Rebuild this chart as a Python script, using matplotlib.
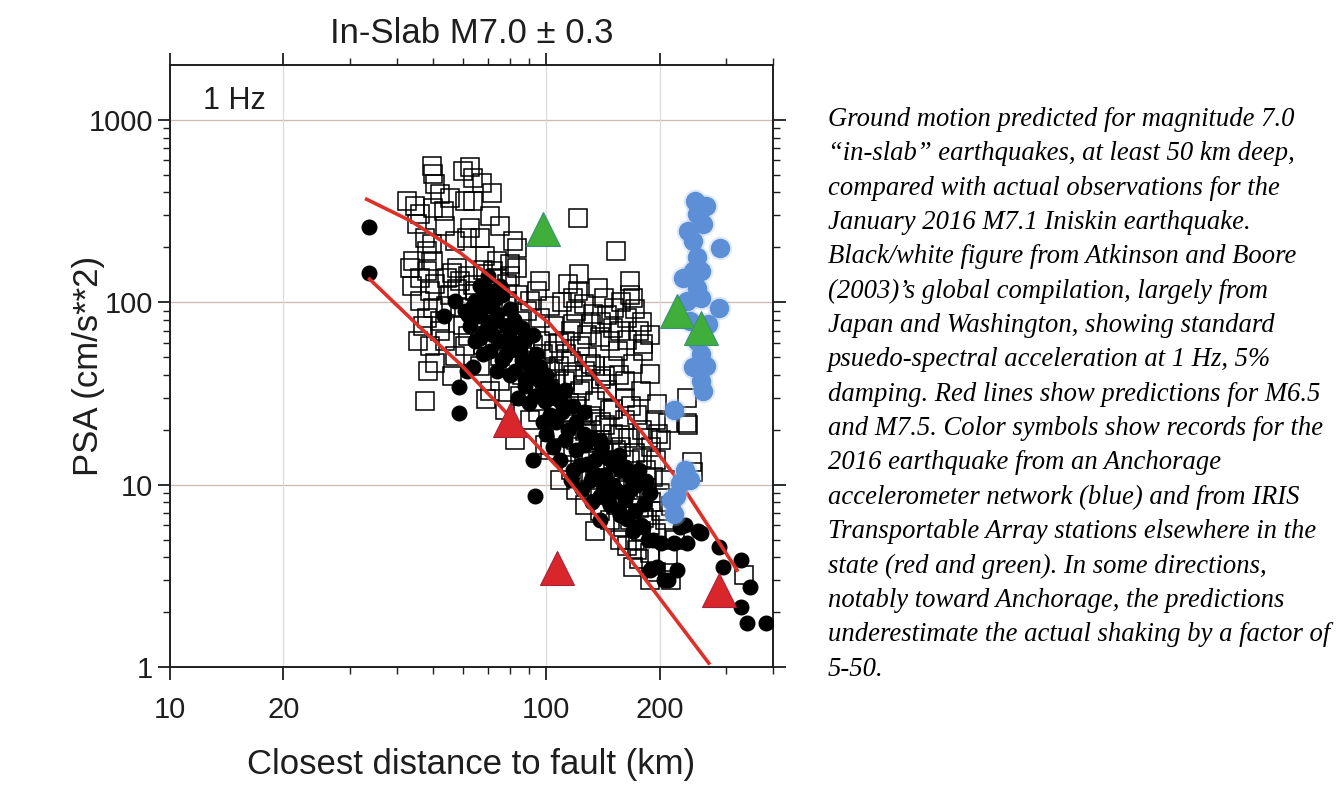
import matplotlib
matplotlib.use("Agg")
import matplotlib.pyplot as plt
from matplotlib.ticker import FixedLocator, FixedFormatter, NullFormatter

RED = "#de3029"
GREEN = "#3fae3a"
BLUE = "#5c8fd6"
GRID_H = "#cdb9b0"
GRID_V = "#dcdcdc"
INK = "#1e1e1e"
FONT = "Liberation Sans"

# Atkinson & Boore compilation: open squares
SQ_DIST = [49.7, 50, 50.6, 52.3, 42.7, 44.8, 46.2, 50, 53.3, 55.5, 60.1, 60.8, 62.7, 63.9, 67.5,
           71.8, 63.9, 62.7, 66.7, 45.4, 47.6, 49.7, 48.2, 44.3, 43.5, 50, 48.2, 46.2, 50.6, 49.1,
           57.9, 59, 54.6, 61.6, 59, 50, 48.2, 53.9, 57.2, 70.9, 75.4, 68.8, 55.5, 52.3, 46.2,
           44, 64.6,
           47.1, 45.7, 49.1, 53.9, 50.6, 48.5, 56.2, 47.6, 57.2, 60.8, 52.3,
           81.7, 83.7, 74, 80.2, 72.2, 83.7, 78.7, 89, 85.3, 96.4, 78.7, 96.4, 94.6, 90.6, 102, 105,
           121, 153, 122, 114, 137, 167, 167, 142, 121, 120, 133, 151, 164, 118, 131, 181, 189,
           170, 155, 139, 131, 197, 237, 237, 210, 181, 157, 148, 123, 112, 178, 162, 143, 195, 170,
           238, 244, 245, 189, 210, 189, 214, 334, 170, 174, 160, 167, 201, 195, 207, 184, 178,
           201, 189,
           66.7, 73.1, 80.2, 87.9, 96.4, 105, 116, 127, 75.4, 82.7, 90.6, 99.4, 109, 120, 131, 143,
           157, 93.4, 102, 112, 123, 135, 148, 162, 96.4, 105, 116, 127, 139, 153, 167, 109, 120,
           131, 143, 157, 172, 123, 135, 148, 162, 139, 153, 167, 148, 131, 116, 102, 109, 120,
           127, 139, 157, 178, 135,
           69, 75.4, 70.9, 77.7, 85.3, 66.7, 82.7, 90.6, 99.4,
           56, 62, 68, 74, 80, 58, 64, 72, 78, 84, 60, 66, 72, 54, 62, 68, 76, 84, 88, 92, 98,
           86, 92, 100, 106,
           95, 102, 108, 113, 118, 125, 128, 135, 140, 145, 150, 156, 162, 168, 174, 180, 186,
           150, 140, 132, 124, 115, 110, 118, 126, 134, 142, 150, 158, 165, 172, 180, 190, 198,
           128, 136, 144, 152, 160, 168, 176, 184, 192, 200, 190, 182, 172, 164, 196, 206, 214,
           220, 176, 196,
           110, 118, 126, 145, 158, 172, 180, 188, 176, 164, 150, 140, 128, 116, 108]
SQ_PSA = [560, 505, 446, 393, 360, 338, 305, 330, 317, 374, 525, 360, 552, 481, 451,
          398, 360, 256, 226, 270, 226, 209, 192, 169, 155, 169, 149, 136, 126, 116,
          155, 131, 136, 226, 93.4, 93.4, 82.4, 263, 217, 298, 263, 180, 109, 79.3, 102,
          123, 116,
          74.5, 61.6, 57.8, 61.6, 46.7, 42.2, 39.6, 28.9, 51, 57.8, 70,
          217, 199, 169, 163, 149, 155, 126, 90, 79.3, 82.4, 102, 131, 116, 102, 95.8, 74.5,
          290, 192, 143, 126, 120, 131, 109, 106, 116, 90, 86.7, 93.4, 82.4, 76.4, 76.4, 59.3, 40.6,
          46.1, 54.3, 64.1, 46.1, 27.8, 30, 21.7, 21.7, 54.3, 70, 61.6, 57.8, 61.6, 32.8, 37.2, 39.6,
          22.5, 106,
          21.1, 13.3, 11.7, 4.21, 4.1, 2.99, 2.99, 3.19, 3.53, 4.37, 5.86, 6.93, 17.5, 13.6, 10.6,
          12, 8.73, 7.2, 6.0,
          70, 61.6, 65.7, 57.8, 61.6, 54.3, 47.9, 42.2, 51, 45, 39.6, 34.9, 30.8, 27.1, 23.9, 21.1,
          18.6, 47.9, 42.2, 37.2, 32.8, 28.9, 25.5, 22.5, 28.9, 25.5, 22.5, 19.8, 17.5, 15.4, 13.6,
          19.8, 17.5, 15.4, 13.6, 12, 10.6, 13.6, 12, 10.6, 9.3, 8.73, 7.7, 6.4, 6.4, 10.6, 12,
          15.4, 10.6, 9.3, 7.7, 7.2, 4.95, 5.6, 5.6,
          29.5, 37.2, 32.8, 25.5, 30.8, 45, 17.5, 22.5, 16.4,
          145, 140, 150, 135, 140, 118, 125, 110, 95, 110, 75, 82, 88, 95, 65, 58, 72, 66, 50, 58, 52,
          40, 36, 44, 38,
          25, 33, 45, 52, 40, 35, 50, 45, 38, 33, 45, 40, 30, 27, 24, 20, 18,
          26, 22, 20, 24, 28, 20, 16, 14, 17, 15, 19, 16, 18, 15, 14, 16, 19,
          11, 9.8, 9, 11, 10, 8.4, 7.4, 9.6, 11, 9, 8, 6.6, 5, 4.6, 5.4, 6.4, 7.6,
          5, 3.9, 3.3,
          100, 105, 98, 85, 100, 92, 78, 66, 70, 62, 72, 78, 66, 70, 60]

# Atkinson & Boore compilation: filled circles
CI_DIST = [33.8, 33.8, 53.3, 58.6, 58.6, 92.3, 93.4, 61.6, 57.2, 60.8, 64.6, 62.7, 66.7, 70.9,
           68.8, 73.1, 75.4, 80.2, 77.7, 85.3, 82.7, 90.6, 87.9, 96.4, 70.9, 66.7, 64.6, 70.9,
           99.4, 102, 109, 93.4, 75.4, 70, 112, 120, 127, 123, 135, 131, 143, 139, 153, 148, 162,
           157, 172, 139, 178, 116, 109, 139, 157, 167, 181, 192, 227, 257, 237, 197, 223, 205,
           189, 234, 253, 287, 328, 295, 348, 328, 342, 383, 186, 201, 218, 210, 74, 63.9, 66.7,
           64, 68, 72, 76, 80, 74, 70, 78, 82, 86, 88, 92, 84, 80, 76, 86, 94, 96, 100, 104, 92,
           88, 98, 106, 112, 72, 68, 80, 84, 90, 78, 62, 66,
           114, 120, 126, 132, 140, 146, 150, 156, 162, 168, 174, 160, 150, 142, 134, 128, 118,
           124, 132, 146, 156, 164, 170, 182, 188, 176, 184, 106, 100, 110, 118, 126, 104, 98]
CI_PSA = [260, 145, 84.5, 34.1, 24.6, 13.6, 8.7, 42.2, 102, 90, 102, 74.5, 84.5, 95.8,
          70, 79.3, 61.6, 70, 51, 54.3, 42.2, 45, 34.9, 37.2, 116, 123, 61.6, 54.3,
          28.9, 24, 28.9, 30.8, 123, 140, 17.5, 15.4, 16.4, 12.8, 13.6, 10.6, 11.3, 8.7, 9.3, 7.7,
          8.2, 6.8, 7.2, 6.4, 6.0, 10.6, 13.6, 17.5, 12, 9.3, 5.86, 4.95, 5.86, 5.46, 4.77, 3.53,
          3.4, 2.99, 3.4, 6.0, 5.6, 4.53, 3.85, 3.53, 2.74, 2.13, 1.74, 1.74, 4.95, 4.77, 4.77,
          2.99, 42.2, 44, 63.6,
          95, 105, 100, 110, 92, 86, 78, 74, 80, 72, 62, 66, 60, 55, 48, 48, 52, 44, 40, 34, 40,
          38, 32, 30, 33, 66, 52, 40, 30, 28, 62, 85, 96,
          20, 22, 19, 18, 16, 14, 13, 14.5, 12.5, 11, 10, 9, 10, 9.8, 11.5, 13, 12,
          9.5, 8, 8.2, 7.2, 6.5, 5.6, 7.8, 9, 12, 10.5, 22, 19, 25, 27, 25, 16, 22]

# 2016 Iniskin records
BL_DIST = [248, 252, 260, 245, 290, 252, 245, 231, 252, 257, 287, 268, 252, 257, 245, 257, 260,
           218, 227, 241, 214, 218, 238, 265, 241, 265, 236, 257, 234, 221]
BL_PSA = [360, 305, 270, 217, 199, 176, 149, 136, 120, 106, 93.4, 76.4, 61.6, 52.3, 43.9, 37.2,
          32.8, 25.5, 10.2, 10.6, 8.2, 6.93, 247, 338, 79.3, 45, 102, 149, 12.0, 8.7]
GR_DIST = [98, 223, 257]
GR_PSA = [253, 90, 72.6]
RD_DIST = [80, 107, 287]
RD_PSA = [22.5, 3.5, 2.64]

# predictions, M7.5 (upper) and M6.5 (lower)
M75_DIST = [33.3, 43.5, 59, 102, 178, 227, 321]
M75_PSA = [367, 280, 187, 76.4, 19.8, 10.2, 3.4]
M65_DIST = [33.9, 47.1, 59, 109, 170, 270]
M65_PSA = [134, 70, 45.9, 12, 3.71, 1.05]

X_MAJOR = [10, 20, 100, 200]
X_MINOR = [30, 40, 50, 60, 70, 80, 90, 300, 400]
Y_MAJOR = [1, 10, 100, 1000]

CAPTION = ("Ground motion predicted for magnitude 7.0\n"
           "\u201cin-slab\u201d earthquakes, at least 50 km deep,\n"
           "compared with actual observations for the\n"
           "January 2016 M7.1 Iniskin earthquake.\n"
           "Black/white figure from Atkinson and Boore\n"
           "(2003)\u2019s global compilation, largely from\n"
           "Japan and Washington, showing standard\n"
           "psuedo-spectral acceleration at 1 Hz, 5%\n"
           "damping. Red lines show predictions for M6.5\n"
           "and M7.5. Color symbols show records for the\n"
           "2016 earthquake from an Anchorage\n"
           "accelerometer network (blue) and from IRIS\n"
           "Transportable Array stations elsewhere in the\n"
           "state (red and green). In some directions,\n"
           "notably toward Anchorage, the predictions\n"
           "underestimate the actual shaking by a factor of\n"
           "5-50.")

fig = plt.figure(figsize=(13.38, 7.88), dpi=100)
ax = fig.add_axes([170 / 1338, 121 / 788, 603 / 1338, 602 / 788])
ax.set_xscale("log")
ax.set_yscale("log")
ax.set_xlim(10, 400)
ax.set_ylim(1, 2000)

for v in [10, 100, 1000]:
    ax.axhline(v, color=GRID_H, lw=0.9, zorder=0)
for v in [20, 100, 200]:
    ax.axvline(v, color=GRID_V, lw=0.9, zorder=0)

ax.plot(SQ_DIST, SQ_PSA, ls="none", marker="s", ms=12.5, mfc="none", mec="black", mew=1.1, zorder=2)
ax.plot(CI_DIST, CI_PSA, ls="none", marker="o", ms=10.5, mfc="black", mec="black", zorder=3)
ax.plot(M75_DIST, M75_PSA, color=RED, lw=2.6, zorder=4)
ax.plot(M65_DIST, M65_PSA, color=RED, lw=2.6, zorder=4)
ax.plot(BL_DIST, BL_PSA, ls="none", marker="o", ms=17, mfc="#a9c4ea", mec="none", alpha=0.35, zorder=5)
ax.plot(BL_DIST, BL_PSA, ls="none", marker="o", ms=14, mfc=BLUE, mec="none", zorder=5)
ax.plot(GR_DIST, GR_PSA, ls="none", marker="^", ms=24, mfc=GREEN, mec="#3b8f7a", mew=0.8, zorder=6)
ax.plot(RD_DIST, RD_PSA, ls="none", marker="^", ms=24, mfc="#d9262b", mec="#a3243a", mew=0.8, zorder=6)

ax.xaxis.set_major_locator(FixedLocator(X_MAJOR))
ax.xaxis.set_major_formatter(FixedFormatter([str(v) for v in X_MAJOR]))
ax.xaxis.set_minor_locator(FixedLocator(X_MINOR))
ax.xaxis.set_minor_formatter(NullFormatter())
ax.yaxis.set_major_locator(FixedLocator(Y_MAJOR))
ax.yaxis.set_major_formatter(FixedFormatter([str(v) for v in Y_MAJOR]))
ax.yaxis.set_minor_locator(FixedLocator([m * d for d in [1, 10, 100, 1000] for m in range(2, 10)
                                          if m * d < 2000]))
ax.yaxis.set_minor_formatter(NullFormatter())
ax.tick_params(which="both", direction="out", top=True, right=True, colors=INK)
ax.tick_params(which="major", length=9, width=1.3, labelsize=21)
ax.tick_params(axis="x", which="major", pad=12)
ax.tick_params(axis="y", which="major", pad=3)
ax.tick_params(which="minor", length=5, width=1.0)
for lab in ax.get_xticklabels() + ax.get_yticklabels():
    lab.set_fontfamily(FONT)
for sp in ax.spines.values():
    sp.set_linewidth(1.4)
    sp.set_color(INK)

ax.text(12.2, 1270, "1 Hz", fontsize=22, family=FONT, ha="left", va="center", color=INK)
ax.set_title("In-Slab M7.0 \u00b1 0.3", fontsize=25, family=FONT, pad=16, color=INK)
ax.set_xlabel("Closest distance to fault (km)", fontsize=25, family=FONT, color=INK)
ax.xaxis.set_label_coords(0.5, -0.135)
ax.set_ylabel("PSA (cm/s**2)", fontsize=25, family=FONT, color=INK)
ax.yaxis.set_label_coords(-0.108, 0.5)

fig.text(828 / 1338, 1 - 107 / 788, CAPTION, fontsize=19.2, family="Liberation Serif",
         style="italic", ha="left", va="top", linespacing=1.49)

fig.savefig("out.png", dpi=100, facecolor="white")
